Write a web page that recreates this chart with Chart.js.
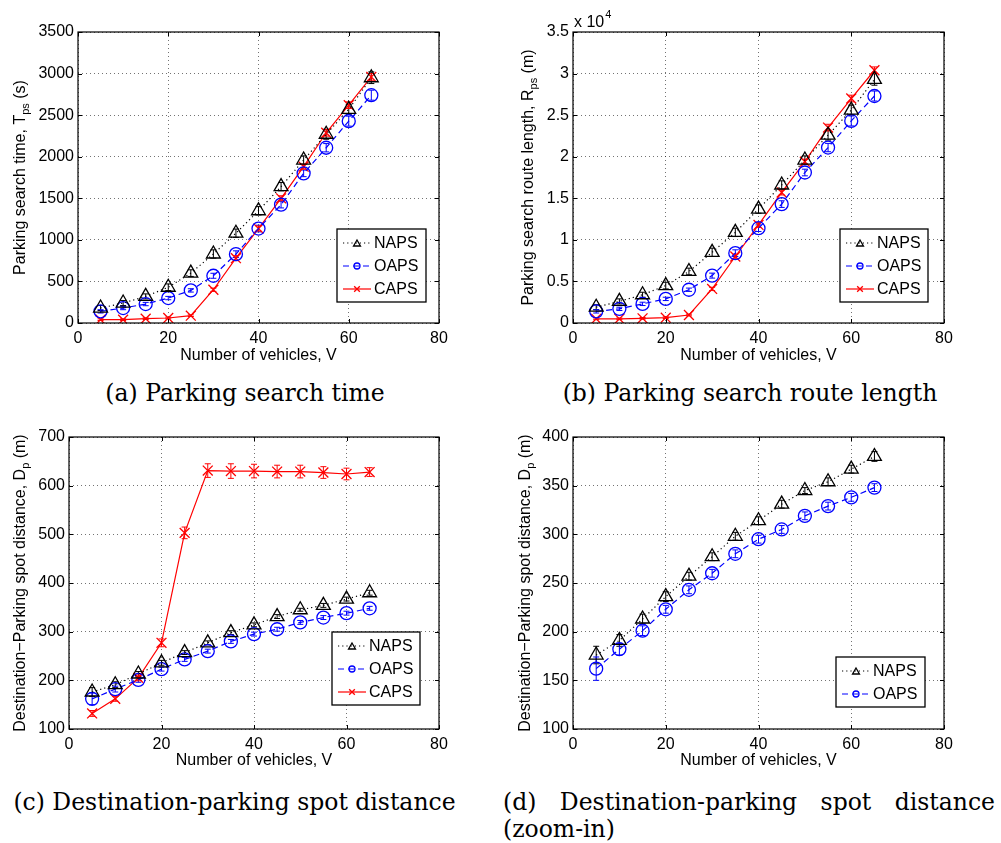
<!DOCTYPE html>
<html>
<head>
<meta charset="utf-8">
<script src="https://cdn.jsdelivr.net/npm/chart.js@4.4.1/dist/chart.umd.min.js"></script>
<style>
  body { margin: 0; background: #fff; width: 1001px; height: 843px; position: relative; overflow: hidden; }
  canvas { position: absolute; }
  .cap { position: absolute; font-family: 'DejaVu Serif', serif; font-size: 23.5px; line-height: 27px; color: #000; white-space: nowrap; }
</style>
</head>
<body>
<canvas id="chartA" width="480" height="370" style="left:0;top:0"></canvas>
<canvas id="chartB" width="511" height="370" style="left:490px;top:0"></canvas>
<canvas id="chartC" width="480" height="350" style="left:0;top:420px"></canvas>
<canvas id="chartD" width="511" height="350" style="left:490px;top:420px"></canvas>

<div class="cap" style="left:0;width:490px;top:380px;text-align:center">(a) Parking search time</div>
<div class="cap" style="left:495px;width:510px;top:380px;text-align:center">(b) Parking search route length</div>
<div class="cap" style="left:0;width:469px;top:789px;text-align:center">(c) Destination-parking spot distance</div>
<div class="cap" style="left:503px;width:492px;top:789px;text-align:justify;white-space:normal">(d) Destination-parking spot distance (zoom-in)</div>

<script>
// ---- data ----
const vehicles = [5, 10, 15, 20, 25, 30, 35, 40, 45, 50, 55, 60, 65];

// parking search time (s)
const tpsNaps = [180, 240, 320, 430, 600, 830, 1080, 1350, 1640, 1960, 2270, 2570, 2950];
const tpsOaps = [140, 180, 228, 300, 392, 568, 828, 1136, 1424, 1800, 2108, 2428, 2740];
const tpsCaps = [40, 40, 52, 60, 88, 400, 780, 1136, 1500, 1880, 2288, 2620, 2960];
const tpsNapsErr = [30, 30, 30, 40, 40, 50, 50, 50, 50, 50, 60, 60, 70];
const tpsOapsErr = [20, 20, 20, 20, 20, 30, 40, 40, 40, 40, 50, 60, 60];
const tpsCapsErr = [10, 10, 10, 10, 10, 20, 30, 30, 30, 30, 40, 40, 40];

// parking search route length (m)
const rpsNaps = [1900, 2600, 3400, 4500, 6200, 8500, 10900, 13700, 16600, 19600, 22600, 25600, 29300];
const rpsOaps = [1400, 1700, 2300, 2900, 4000, 5700, 8400, 11400, 14300, 18100, 21100, 24300, 27300];
const rpsCaps = [500, 500, 560, 640, 960, 4100, 8000, 11800, 15700, 19400, 23500, 27000, 30400];
const rpsNapsErr = [300, 300, 300, 400, 400, 500, 500, 500, 500, 500, 600, 600, 700];
const rpsOapsErr = [200, 200, 200, 200, 200, 300, 400, 400, 400, 400, 500, 600, 600];
const rpsCapsErr = [100, 100, 100, 100, 100, 200, 300, 300, 300, 300, 400, 400, 400];

// destination - parking spot distance (m)
const dpNaps = [176, 191, 213, 236, 257, 277, 298, 314, 331, 345, 354, 367, 380];
const dpOaps = [162, 182, 201, 223, 243, 260, 280, 295, 305, 319, 329, 338, 348];
const dpCaps = [132, 162, 205, 277, 503, 631, 630, 630, 629, 629, 627, 624, 628];
const dpNapsErr = [9, 6, 5, 5, 4, 4, 4, 4, 4, 3, 4, 4, 5];
const dpOapsErr = [12, 6, 5, 4, 4, 4, 4, 4, 4, 4, 4, 4, 4];
const dpCapsErr = [6, 5, 6, 8, 12, 14, 15, 14, 13, 13, 12, 12, 9];

const xTicksMax = 80;
const xTickStep = 20;

// ---- styling ----
const FONT = "'Liberation Sans', Arial, Helvetica, sans-serif";
Chart.defaults.font.family = FONT;
Chart.defaults.font.size = 16;
Chart.defaults.color = '#000';

const seriesStyle = {
    NAPS: { color: '#000000', dash: [1.2, 3], pointStyle: 'triangle', radius: 8, legendRadius: 4 },
    OAPS: { color: '#0000ff', dash: [6, 4], pointStyle: 'circle', radius: 6.5, legendRadius: 3 },
    CAPS: { color: '#ff0000', dash: [], pointStyle: 'crossRot', radius: 7, legendRadius: 4 }
};

function series(name, ys, errs) {
    const s = seriesStyle[name];
    return {
        label: name,
        data: vehicles.map((v, i) => ({ x: v, y: ys[i] })),
        errors: errs,
        borderColor: s.color,
        borderDash: s.dash,
        borderWidth: 1.2,
        pointStyle: s.pointStyle,
        pointRadius: s.radius,
        pointHoverRadius: s.radius,
        pointBorderWidth: 1.3,
        pointBorderColor: s.color,
        pointBackgroundColor: 'rgba(0,0,0,0)',
        legendRadius: s.legendRadius,
        fill: false,
        tension: 0
    };
}

// draws error bars, the boxed axes with inward ticks, the legend box and the axis titles
const matlabPlugin = {
    id: 'matlab',
    beforeDatasetsDraw(chart) {
        const ctx = chart.ctx;
        const xs = chart.scales.x, ys = chart.scales.y;
        ctx.save();
        ctx.lineWidth = 1;
        chart.data.datasets.forEach(ds => {
            if (!ds.errors) return;
            ctx.strokeStyle = ds.borderColor;
            ds.data.forEach((p, j) => {
                const e = ds.errors[j];
                const px = xs.getPixelForValue(p.x);
                const y0 = ys.getPixelForValue(p.y - e);
                const y1 = ys.getPixelForValue(p.y + e);
                ctx.beginPath();
                ctx.moveTo(px, y0); ctx.lineTo(px, y1);
                ctx.moveTo(px - 3, y0); ctx.lineTo(px + 3, y0);
                ctx.moveTo(px - 3, y1); ctx.lineTo(px + 3, y1);
                ctx.stroke();
            });
        });
        ctx.restore();
    },
    afterDraw(chart, args, opts) {
        const ctx = chart.ctx;
        const a = chart.chartArea;
        const xs = chart.scales.x, ys = chart.scales.y;
        ctx.save();

        // axes box with inward ticks
        ctx.strokeStyle = '#000';
        ctx.lineWidth = 1.2;
        ctx.setLineDash([]);
        ctx.strokeRect(a.left, a.top, a.right - a.left, a.bottom - a.top);
        ctx.lineWidth = 1;
        ctx.beginPath();
        xs.ticks.forEach(t => {
            const px = Math.round(xs.getPixelForValue(t.value)) + 0.5;
            ctx.moveTo(px, a.bottom); ctx.lineTo(px, a.bottom - 4);
            ctx.moveTo(px, a.top); ctx.lineTo(px, a.top + 4);
        });
        ys.ticks.forEach(t => {
            const py = Math.round(ys.getPixelForValue(t.value)) + 0.5;
            ctx.moveTo(a.left, py); ctx.lineTo(a.left + 4, py);
            ctx.moveTo(a.right, py); ctx.lineTo(a.right - 4, py);
        });
        ctx.stroke();

        // legend
        const lg = opts.legend;
        const sets = chart.data.datasets;
        const boxH = sets.length * 23 + 4;
        const bx = a.right - lg.right - lg.width;
        const by = a.bottom - lg.bottom - boxH;
        ctx.fillStyle = '#fff';
        ctx.fillRect(bx, by, lg.width, boxH);
        ctx.lineWidth = 1.3;
        ctx.strokeStyle = '#000';
        ctx.strokeRect(bx, by, lg.width, boxH);
        ctx.font = '16px ' + FONT;
        ctx.textBaseline = 'middle';
        ctx.textAlign = 'left';
        sets.forEach((ds, i) => {
            const cy = by + 14 + i * 23;
            ctx.strokeStyle = ds.borderColor;
            ctx.lineWidth = 1.2;
            ctx.setLineDash(ds.borderDash);
            ctx.beginPath();
            ctx.moveTo(bx + 6, cy); ctx.lineTo(bx + 34, cy);
            ctx.stroke();
            ctx.setLineDash([]);
            ctx.fillStyle = 'rgba(0,0,0,0)';
            ctx.lineWidth = 1.3;
            Chart.helpers.drawPoint(ctx, {
                pointStyle: ds.pointStyle, radius: ds.legendRadius, rotation: 0, borderWidth: 1.3
            }, bx + 20, cy + (ds.pointStyle === 'triangle' ? 1 : 0));
            ctx.fillStyle = '#000';
            ctx.fillText(ds.label, bx + 37, cy + 1);
        });

        // x title
        ctx.fillStyle = '#000';
        ctx.textAlign = 'center';
        ctx.textBaseline = 'alphabetic';
        ctx.font = '16px ' + FONT;
        ctx.fillText(opts.xTitle.text, (a.left + a.right) / 2, opts.xTitle.y);

        // y title with subscript, rotated
        const yt = opts.yTitle;
        const big = '16px ' + FONT, small = '11px ' + FONT;
        ctx.font = big;
        const w1 = ctx.measureText(yt.main).width;
        const w3 = ctx.measureText(yt.tail).width;
        ctx.font = small;
        const w2 = ctx.measureText(yt.sub).width;
        const total = w1 + w2 + w3;
        ctx.translate(yt.x, (a.top + a.bottom) / 2);
        ctx.rotate(-Math.PI / 2);
        ctx.textAlign = 'left';
        let cx = -total / 2;
        ctx.font = big;
        ctx.fillText(yt.main, cx, 0);
        cx += w1;
        ctx.font = small;
        ctx.fillText(yt.sub, cx, 4);
        cx += w2;
        ctx.font = big;
        ctx.fillText(yt.tail, cx, 0);
        ctx.setTransform(1, 0, 0, 1, 0, 0);

        // exponent label above the y axis
        if (opts.exponent) {
            ctx.textAlign = 'left';
            ctx.font = '16px ' + FONT;
            ctx.fillText('x 10', a.left + 1, a.top - 5);
            const ew = ctx.measureText('x 10').width;
            ctx.font = '11px ' + FONT;
            ctx.fillText(opts.exponent, a.left + 2 + ew, a.top - 14);
        }
        ctx.restore();
    }
};

function makeChart(id, cfg) {
    const gridStyle = { color: 'rgba(0,0,0,0.55)', lineWidth: 1, drawTicks: false };
    return new Chart(document.getElementById(id), {
        type: 'line',
        data: { datasets: cfg.datasets },
        options: {
            responsive: false,
            animation: false,
            events: [],
            layout: { padding: { left: 0, top: cfg.top, right: cfg.right, bottom: 0 } },
            scales: {
                x: {
                    type: 'linear',
                    min: 0,
                    max: xTicksMax,
                    ticks: { stepSize: xTickStep, padding: 6, font: { size: 16 } },
                    grid: gridStyle,
                    border: { display: false, dash: [1, 3] },
                    afterFit: s => { s.height = cfg.xAxisH; }
                },
                y: {
                    type: 'linear',
                    min: cfg.yMin,
                    max: cfg.yMax,
                    ticks: { stepSize: cfg.yStep, padding: 4, font: { size: 16 }, callback: cfg.yFmt || (v => v) },
                    grid: gridStyle,
                    border: { display: false, dash: [1, 3] },
                    afterFit: s => { s.width = cfg.yAxisW; }
                }
            },
            plugins: {
                legend: { display: false },
                tooltip: { enabled: false },
                matlab: {
                    legend: cfg.legend,
                    xTitle: cfg.xTitle,
                    yTitle: cfg.yTitle,
                    exponent: cfg.exponent
                }
            }
        },
        plugins: [matlabPlugin]
    });
}

makeChart('chartA', {
    datasets: [series('NAPS', tpsNaps, tpsNapsErr), series('OAPS', tpsOaps, tpsOapsErr), series('CAPS', tpsCaps, tpsCapsErr)],
    top: 32, right: 41, xAxisH: 47, yAxisW: 78,
    yMin: 0, yMax: 3500, yStep: 500,
    legend: { right: 13, bottom: 21, width: 89 },
    xTitle: { text: 'Number of vehicles, V', y: 360 },
    yTitle: { main: 'Parking search time, T', sub: 'ps', tail: ' (s)', x: 25 }
});

makeChart('chartB', {
    datasets: [series('NAPS', rpsNaps, rpsNapsErr), series('OAPS', rpsOaps, rpsOapsErr), series('CAPS', rpsCaps, rpsCapsErr)],
    top: 32, right: 57, xAxisH: 47, yAxisW: 83,
    yMin: 0, yMax: 35000, yStep: 5000,
    yFmt: v => v / 10000,
    legend: { right: 16, bottom: 21, width: 88 },
    xTitle: { text: 'Number of vehicles, V', y: 360 },
    yTitle: { main: 'Parking search route length, R', sub: 'ps', tail: ' (m)', x: 43 },
    exponent: '4'
});

makeChart('chartC', {
    datasets: [series('NAPS', dpNaps, dpNapsErr), series('OAPS', dpOaps, dpOapsErr), series('CAPS', dpCaps, dpCapsErr)],
    top: 17, right: 41, xAxisH: 41, yAxisW: 69,
    yMin: 100, yMax: 700, yStep: 100,
    legend: { right: 19, bottom: 24, width: 88 },
    xTitle: { text: 'Number of vehicles, V', y: 345 },
    yTitle: { main: 'Destination\u2212Parking spot distance, D', sub: 'p', tail: ' (m)', x: 25 }
});

makeChart('chartD', {
    datasets: [series('NAPS', dpNaps, dpNapsErr), series('OAPS', dpOaps, dpOapsErr)],
    top: 17, right: 57, xAxisH: 41, yAxisW: 83,
    yMin: 100, yMax: 400, yStep: 50,
    legend: { right: 19, bottom: 22, width: 89 },
    xTitle: { text: 'Number of vehicles, V', y: 345 },
    yTitle: { main: 'Destination\u2212Parking spot distance, D', sub: 'p', tail: ' (m)', x: 40 }
});
</script>
</body>
</html>
